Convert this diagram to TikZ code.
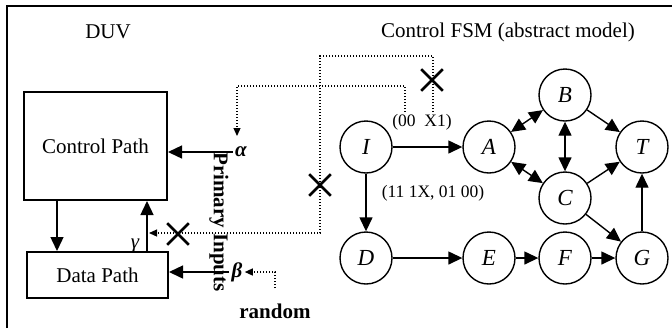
\documentclass[tikz,border=0pt]{standalone}
\usepackage{fontspec}
\setmainfont{Liberation Serif}
\usetikzlibrary{arrows.meta,shapes.misc}
\begin{document}
\begin{tikzpicture}[x=.5pt, y=-.5pt, every node/.style={font=\fontsize{10.5}{12}\selectfont},
  st/.style={draw, circle, line width=.7pt, minimum size=26pt, inner sep=0pt, font=\fontsize{11.5}{13}\selectfont\itshape},
  box/.style={draw, line width=1pt, inner sep=0pt},
  lbl/.style={font=\fontsize{8.75}{10}\selectfont, inner sep=1pt},
  sym/.style={font=\fontsize{10.5}{12}\selectfont\bfseries\itshape, inner sep=1pt},
  tip/.style={line width=.7pt, -{Triangle[length=7pt,width=6.5pt]}},
  dtip/.style={line width=.7pt, {Triangle[length=7pt,width=6.5pt]}-{Triangle[length=7pt,width=6.5pt]}},
  hint/.style={line width=.6pt, dash pattern=on .6pt off .9pt, -{Triangle[length=4pt,width=3.5pt]}},
  xmark/.style={draw, cross out, line width=1.3pt, minimum size=9.5pt, inner sep=0pt}]
  \useasboundingbox (0,0) rectangle (672,328);
  \draw[line width=1pt] (7,328) |- (672,6);
  % DUV side
  \node (duv) at (108,32) {DUV};
  \node[box, minimum width=71.5pt, minimum height=54pt] (cp) at (95.5,146) {Control Path};
  \node[box, minimum width=70.5pt, minimum height=23pt] (dp) at (97.5,275) {Data Path};
  \node[sym] (alpha) at (241,152) {α}; \node[sym] (beta) at (237,272) {β};
  \node[font=\fontsize{10.5}{12}\selectfont\itshape, inner sep=1pt] (gamma) at (135,246) {γ};
  \node[font=\fontsize{10.5}{12}\selectfont\bfseries, rotate=-90] (pin) at (219,222) {Primary Inputs};
  \node[font=\fontsize{10.5}{12}\selectfont\bfseries] (rnd) at (275,311) {random};
  \coordinate (dn) at (57,0); \coordinate (up) at (147,0);
  \draw[tip] (dn |- cp.south) -- (dn |- dp.north);
  \draw[tip] (up |- dp.north) -- (up |- cp.south);
  \draw[tip] (alpha.west) -- (alpha.west -| cp.east);
  \draw[tip] (beta.west) -- (beta.west -| dp.east);
  % FSM side
  \node (fsm) at (508,32) {Control FSM (abstract model)};
  \foreach \n/\x/\y in {I/366/147,A/489/147,B/565/95,T/642/147,C/565/198,D/366/258,E/489/258,F/565/258,G/642/258}
    \node[st] (\n) at (\x,\y) {\n};
  \foreach \a/\b in {I/A,I/D,B/T,C/T,C/G,D/E,E/F,F/G,G/T}
    \draw[tip] (\a) -- (\b);
  \foreach \a/\b in {A/B,A/C,B/C}
    \draw[dtip] (\a) -- (\b);
  \node[lbl] (l0) at (422,122) {(00\ \ X1)};
  \node[lbl] (l1) at (433,193) {(11 1X, 01 00)};
  % dotted feedback
  \coordinate (o0) at (405,112); \coordinate (o1) at (433,112);
  \coordinate (ain) at (237,136); \coordinate (gin) at (149,233); \coordinate (rin) at (275,288);
  \draw[hint] (o0) -- (405,86) -| (ain);
  \draw[hint] (o1) -- (433,56) -| (320,233) -- (gin);
  \draw[hint] (rin) |- (beta.east);
  \foreach \n/\x/\y in {x0/432/80,x1/320/185,x2/178/234}
    \node[xmark] (\n) at (\x,\y) {};
\end{tikzpicture}
\end{document}
